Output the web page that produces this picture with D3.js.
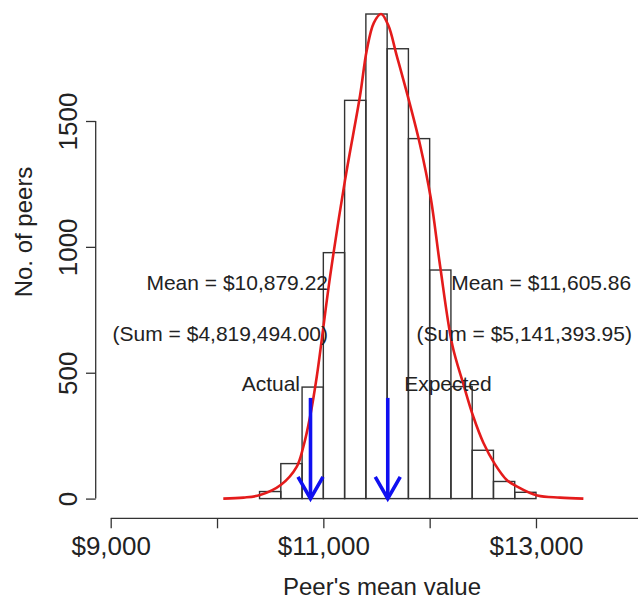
<!DOCTYPE html>
<html>
<head>
<meta charset="utf-8">
<script src="https://cdn.jsdelivr.net/npm/d3@7"></script>
<style>
  body { margin: 0; background: #fff; }
  svg text { font-family: "Liberation Sans", Arial, sans-serif; fill: #222; }
</style>
</head>
<body>
<svg id="chart" width="638" height="601"></svg>
<script>
// histogram bins (lower edges, width 200) and counts
var binStarts = [10400, 10600, 10800, 11000, 11200, 11400, 11600, 11800, 12000, 12200, 12400, 12600, 12800]
var binCounts = [28, 139, 443, 977, 1582, 1925, 1787, 1430, 908, 445, 192, 68, 25]
var binWidth = 200

// density curve (value, scaled count)
var curveX = [10059, 10250, 10404, 10602, 10749, 10812, 10875, 10938, 11063, 11204, 11345, 11408, 11475, 11543, 11611, 11690, 11809, 11910, 12010, 12098, 12213, 12317, 12411, 12505, 12612, 12725, 12813, 13013, 13226, 13446]
var curveY = [0, 4, 14, 55, 126, 206, 325, 484, 881, 1265, 1600, 1780, 1890, 1925, 1880, 1760, 1575, 1405, 1195, 925, 610, 455, 325, 222, 138, 74, 50, 12, 4, 0]

var xTicks = [9000, 10000, 11000, 12000, 13000, 14000]
var xTickLabels = ["$9,000", "", "$11,000", "", "$13,000", ""]
var yTicks = [0, 500, 1000, 1500]

var means = [10879.22, 11605.86]
var arrowTop = 400

var noteText = ["Mean = $10,879.22", "(Sum = $4,819,494.00)", "Actual",
                "Mean = $11,605.86", "(Sum = $5,141,393.95)", "Expected"]
var noteX = [10190, 10031, 10506, 13049, 12890, 12172]
var noteY = [857, 655, 456, 857, 655, 456]

var svg = d3.select("#chart")
var noteSize = 21
var tickSize = 26
var titleSize = 24

var x = d3.scaleLinear().domain([9000, 14000]).range([110.7, 642.3])
var y = d3.scaleLinear().domain([0, 1500]).range([498.6, 121])

// bars
svg.selectAll(".bar")
    .data(binStarts).enter()
    .append("rect")
    .attr("class", "bar")
    .attr("x", function(d) { return x(d) })
    .attr("width", function(d) { return x(d + binWidth) - x(d) })
    .attr("y", function(d, i) { return y(binCounts[i]) })
    .attr("height", function(d, i) { return y(0) - y(binCounts[i]) })
    .attr("fill", "none")
    .attr("stroke", "#333")
    .attr("stroke-width", 1.4)

// density line
var pts = curveX.map(function(d, i) { return [d, curveY[i]] })
svg.append("path")
    .datum(pts)
    .attr("d", d3.line()
        .x(function(d) { return x(d[0]) })
        .y(function(d) { return y(d[1]) })
        .curve(d3.curveCatmullRom.alpha(0.5)))
    .attr("fill", "none")
    .attr("stroke", "#e41b1b")
    .attr("stroke-width", 2.6)

// arrows at the means
var head = 25, ang = 30 * Math.PI / 180
means.forEach(function(m) {
    var ax = x(m), ty = y(0)
    var g = svg.append("g")
        .attr("stroke", "#1010f0")
        .attr("stroke-width", 3.6)
        .attr("fill", "none")
    g.append("line")
        .attr("x1", ax).attr("x2", ax)
        .attr("y1", y(arrowTop)).attr("y2", ty)
    g.append("path")
        .attr("d", "M" + (ax - head * Math.sin(ang)) + "," + (ty - head * Math.cos(ang)) +
            "L" + ax + "," + ty +
            "L" + (ax + head * Math.sin(ang)) + "," + (ty - head * Math.cos(ang)))
})

// annotations
svg.selectAll(".note")
    .data(noteText).enter()
    .append("text")
    .attr("class", "note")
    .attr("x", function(d, i) { return x(noteX[i]) })
    .attr("y", function(d, i) { return y(noteY[i]) })
    .attr("dy", "0.35em")
    .attr("text-anchor", "middle")
    .style("font-size", noteSize + "px")
    .text(function(d) { return d })

// x axis
var xAxisY = 518.3
var xAxis = d3.axisBottom(x)
    .tickValues(xTicks)
    .tickFormat(function(d, i) { return xTickLabels[i] })
    .tickSizeInner(10)
    .tickSizeOuter(0)
    .tickPadding(8.5)
var gx = svg.append("g")
    .attr("transform", "translate(0," + xAxisY + ")")
    .call(xAxis)
gx.selectAll("path, line").attr("stroke", "#333").attr("stroke-width", 1.3)
gx.selectAll("text").style("font-size", tickSize + "px").attr("fill", "#222")
gx.select(".domain").attr("d", "M" + x(9000) + ",0H" + x(14000))

// y axis
var yAxisX = 95.7
var gy = svg.append("g")
    .attr("transform", "translate(" + yAxisX + ",0)")
    .call(d3.axisLeft(y).tickValues(yTicks).tickSizeInner(9.7).tickSizeOuter(0).tickFormat(d3.format("d")))
gy.selectAll("path, line").attr("stroke", "#333").attr("stroke-width", 1.3)
gy.select(".domain").attr("d", "M0," + y(0) + "V" + y(1500))
gy.selectAll("text")
    .style("font-size", tickSize + "px")
    .attr("fill", "#222")
    .attr("text-anchor", "middle")
    .attr("x", null).attr("dy", null)
    .attr("transform", "translate(-19,0) rotate(-90)")

// axis titles
svg.append("text")
    .attr("x", 382)
    .attr("y", 595)
    .attr("text-anchor", "middle")
    .style("font-size", titleSize + "px")
    .text("Peer's mean value")

svg.append("text")
    .attr("transform", "translate(32,232) rotate(-90)")
    .attr("text-anchor", "middle")
    .style("font-size", titleSize + "px")
    .text("No. of peers")
</script>
</body>
</html>
